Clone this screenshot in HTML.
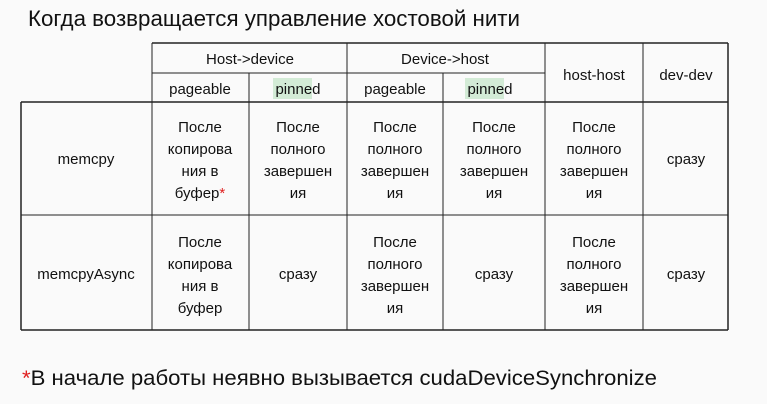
<!DOCTYPE html>
<html><head><meta charset="utf-8"><style>
html,body{margin:0;padding:0;background:#fafafa;width:767px;height:404px;overflow:hidden}
svg{display:block}
text{font-family:"Liberation Sans","DejaVu Sans",sans-serif;fill:#111}
</style></head><body>
<svg width="767" height="404" viewBox="0 0 767 404">
<rect width="767" height="404" fill="#fafafa"/>
<text x="28" y="26" font-size="22" textLength="492" lengthAdjust="spacingAndGlyphs">Когда возвращается управление хостовой нити</text>
<rect x="273" y="78" width="39" height="21" fill="#d3ebd6"/>
<rect x="465" y="78" width="39" height="21" fill="#d3ebd6"/>
<g stroke="#222" stroke-width="1" fill="none">
<line x1="152" y1="43" x2="728" y2="43" stroke-width="1.5"/>
<line x1="152" y1="73" x2="545" y2="73"/>
<line x1="21" y1="102" x2="728" y2="102" stroke-width="1.5"/>
<line x1="21" y1="215" x2="728" y2="215"/>
<line x1="21" y1="330" x2="728" y2="330" stroke-width="1.5"/>
<line x1="21" y1="102" x2="21" y2="330" stroke-width="1.5"/>
<line x1="152" y1="43" x2="152" y2="330"/>
<line x1="249" y1="73" x2="249" y2="330"/>
<line x1="347" y1="43" x2="347" y2="330"/>
<line x1="443" y1="73" x2="443" y2="330"/>
<line x1="545" y1="43" x2="545" y2="330"/>
<line x1="643" y1="43" x2="643" y2="330"/>
<line x1="728" y1="43" x2="728" y2="330" stroke-width="1.5"/>
</g>
<g font-size="15" text-anchor="middle">
<text x="250" y="64">Host-&gt;device</text>
<text x="445" y="64">Device-&gt;host</text>
<text x="594" y="80">host-host</text>
<text x="686" y="80">dev-dev</text>
<text x="200" y="94">pageable</text>
<text x="298" y="94">pinned</text>
<text x="395" y="94">pageable</text>
<text x="490" y="94">pinned</text>
<text x="86" y="164">memcpy</text>
<text x="200" y="132">После</text><text x="200" y="154">копирова</text><text x="200" y="176">ния в</text><text x="200" y="198">буфер<tspan fill="#e02020">*</tspan></text>
<text x="298" y="132">После</text><text x="298" y="154">полного</text><text x="298" y="176">завершен</text><text x="298" y="198">ия</text>
<text x="395" y="132">После</text><text x="395" y="154">полного</text><text x="395" y="176">завершен</text><text x="395" y="198">ия</text>
<text x="494" y="132">После</text><text x="494" y="154">полного</text><text x="494" y="176">завершен</text><text x="494" y="198">ия</text>
<text x="594" y="132">После</text><text x="594" y="154">полного</text><text x="594" y="176">завершен</text><text x="594" y="198">ия</text>
<text x="686" y="164">сразу</text>
<text x="86" y="279">memcpyAsync</text>
<text x="200" y="247">После</text><text x="200" y="269">копирова</text><text x="200" y="291">ния в</text><text x="200" y="313">буфер</text>
<text x="298" y="279">сразу</text>
<text x="395" y="247">После</text><text x="395" y="269">полного</text><text x="395" y="291">завершен</text><text x="395" y="313">ия</text>
<text x="494" y="279">сразу</text>
<text x="594" y="247">После</text><text x="594" y="269">полного</text><text x="594" y="291">завершен</text><text x="594" y="313">ия</text>
<text x="686" y="279">сразу</text>
</g>
<text x="22" y="385" font-size="21" textLength="635" lengthAdjust="spacingAndGlyphs"><tspan fill="#e02020">*</tspan>В начале работы неявно вызывается cudaDeviceSynchronize</text>
</svg>
</body></html>
